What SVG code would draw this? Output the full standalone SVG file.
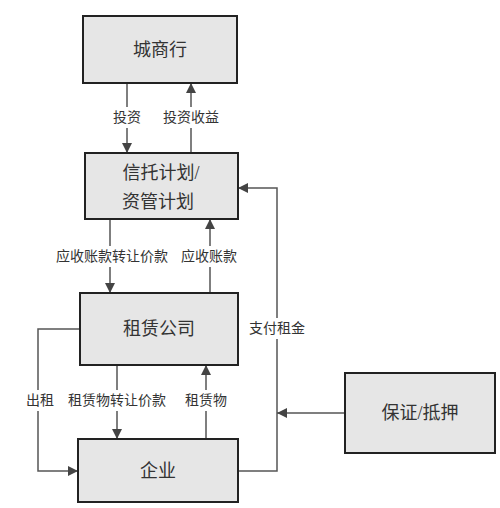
<svg xmlns="http://www.w3.org/2000/svg" width="500" height="508" viewBox="0 0 500 508">
<defs>
<style>
.box{fill:#e6e6e6;stroke:#222;stroke-width:2}
.bt{font-family:"Liberation Serif","Noto Sans CJK SC",serif;font-size:18px;fill:#333;text-anchor:middle;dominant-baseline:central}
.lt{font-family:"Liberation Serif","Noto Sans CJK SC",serif;font-size:14px;fill:#333;text-anchor:middle;dominant-baseline:central}
.ln{fill:none;stroke:#555;stroke-width:1.5}
</style>
<marker id="ah" viewBox="0 0 10 10" refX="10" refY="5" markerWidth="10" markerHeight="10" markerUnits="userSpaceOnUse" orient="auto">
<path d="M0,0 L10,5 L0,10 z" fill="#444"/>
</marker>
</defs>
<rect width="500" height="508" fill="#fff"/>
<g id="connectors">
<path class="ln" d="M127,83 V107 M127,128 V153" marker-end="url(#ah)"/>
<path class="ln" d="M191,153 V128 M191,107 V83" marker-end="url(#ah)"/>
<path class="ln" d="M110,219 V246 M110,267 V293" marker-end="url(#ah)"/>
<path class="ln" d="M210,293 V267 M210,246 V219" marker-end="url(#ah)"/>
<path class="ln" d="M80,329 H38 V390 M38,411 V471 H78" marker-end="url(#ah)"/>
<path class="ln" d="M117,365 V390 M117,411 V439" marker-end="url(#ah)"/>
<path class="ln" d="M206,439 V411 M206,390 V365" marker-end="url(#ah)"/>
<path class="ln" d="M238,471 H277 V339 M277,318 V188 H238" marker-end="url(#ah)"/>
<path class="ln" d="M345,413 H277" marker-end="url(#ah)"/>
<text class="lt" x="127" y="117">投资</text>
<text class="lt" x="191" y="117">投资收益</text>
<text class="lt" x="112" y="256">应收账款转让价款</text>
<text class="lt" x="209" y="256">应收账款</text>
<text class="lt" x="40" y="400">出租</text>
<text class="lt" x="117" y="400">租赁物转让价款</text>
<text class="lt" x="206" y="400">租赁物</text>
<text class="lt" x="277" y="328">支付租金</text>
</g>
<g id="node-bank"><rect class="box" x="83" y="16" width="154" height="67"/><text class="bt" x="160" y="50">城商行</text></g>
<g id="node-trust"><rect class="box" x="85" y="153" width="153" height="66"/><text class="bt" x="161" y="173">信托计划/</text><text class="bt" x="158" y="202">资管计划</text></g>
<g id="node-leasing"><rect class="box" x="80" y="293" width="158" height="72"/><text class="bt" x="159" y="329">租赁公司</text></g>
<g id="node-enterprise"><rect class="box" x="78" y="439" width="160" height="63"/><text class="bt" x="158" y="471">企业</text></g>
<g id="node-guarantee"><rect class="box" x="345" y="373" width="150" height="80"/><text class="bt" x="420" y="413">保证/抵押</text></g>
</svg>
